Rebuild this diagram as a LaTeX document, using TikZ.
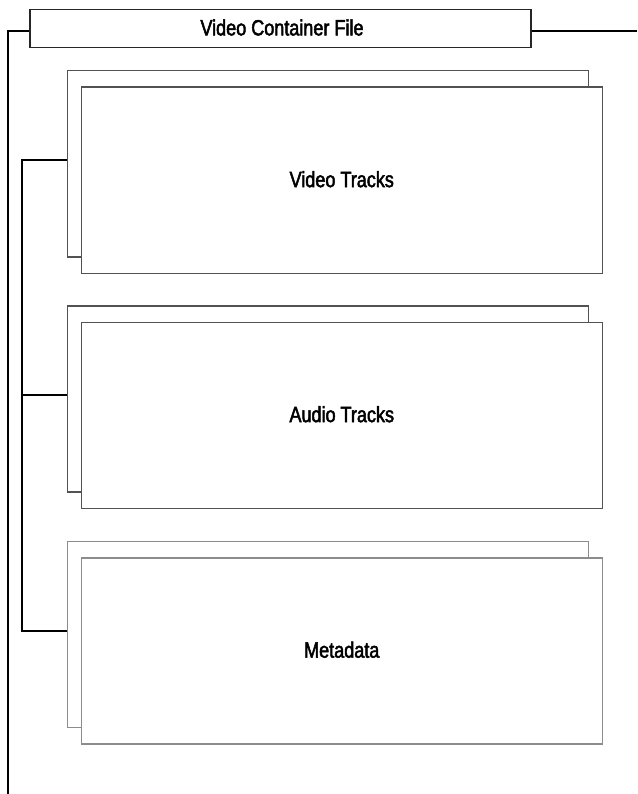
\documentclass[tikz,border=0pt]{standalone}
\usepackage{fontspec}
\setmainfont{Liberation Sans}[FakeStretch=0.82,FakeBold=2.2]
\begin{document}
\begin{tikzpicture}[x=1pt,y=-1pt,
  lbl/.style={font=\fontsize{22}{26}\selectfont},
  titlebox/.style={draw=black!85,line width=1.5pt,fill=white,anchor=north west,inner sep=0pt,minimum width=501pt,minimum height=38pt},
  trackbox/.style={draw=black!68,line width=1.5pt,fill=white,anchor=north west,inner sep=0pt,minimum width=521pt,minimum height=186pt},
  metabox/.style={draw=black!45,line width=1.5pt,fill=white,anchor=north west,inner sep=0pt,minimum width=521pt,minimum height=186pt},
  conn/.style={draw=black,line width=1.8pt}
]
\useasboundingbox (0,0) rectangle (637,794);
% title
\node[titlebox] (title) at (29,9) {};
\node[lbl] (titletext) at (282,27.5) {Video Container File};
% video
\node[trackbox] (vback) at (66.5,70) {};
\node[trackbox] (vfront) at (80.5,86.5) {};
\node[lbl] (vtext) at ([yshift=1pt]vfront.center) {Video Tracks};
% audio
\node[trackbox] (aback) at (66.5,305) {};
\node[trackbox] (afront) at (80.5,321.5) {};
\node[lbl] (atext) at ([yshift=1pt]afront.center) {Audio Tracks};
% metadata
\node[metabox] (mback) at (66.5,540.5) {};
\node[metabox] (mfront) at (80.5,557) {};
\node[lbl] (mtext) at ([yshift=1pt]mfront.center) {Metadata};
% connectors
\coordinate (outertop) at (8,30.7);
\coordinate (outerbot) at (8,794);
\coordinate (rightend) at (637,30.7);
\coordinate (spinetop) at (22,160);
\coordinate (spinemid) at (22,395);
\coordinate (spinebot) at (22,631);
\draw[conn] (title.west |- outertop) -- (outertop) -- (outerbot);
\draw[conn] (title.east |- rightend) -- (rightend);
\draw[conn] (vback.west |- spinetop) -- (spinetop) -- (spinebot) -- (mback.west |- spinebot);
\draw[conn] (spinemid) -- (aback.west |- spinemid);
\end{tikzpicture}
\end{document}
